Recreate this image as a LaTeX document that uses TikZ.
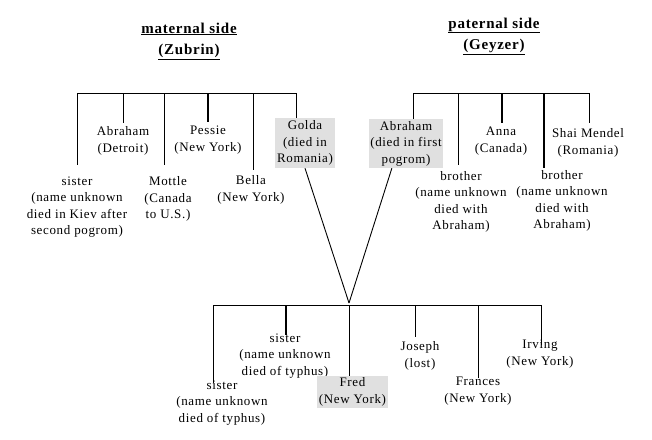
\documentclass[tikz,border=0pt]{standalone}
\usepackage{fontspec}
\setmainfont{Liberation Serif}[LetterSpace=5]
\usetikzlibrary{calc}
\definecolor{boxgray}{RGB}{224,224,224}
\begin{document}
\begin{tikzpicture}[x=1pt,y=-1pt,
  lbl/.style={align=center,font=\fontsize{13}{16.5}\selectfont,inner sep=0pt},
  gbox/.style={lbl,fill=boxgray,inner sep=1pt},
  ttl/.style={align=center,font=\bfseries\fontsize{15}{21}\selectfont,inner sep=0pt},
  ln/.style={line width=0.9pt},
  thk/.style={line width=1.8pt}]
\useasboundingbox[fill=white] (0,0) rectangle (652,439);

% titles
\node[ttl] (mt) at (189,41) {\underline{maternal side}\\\underline{(Zubrin)}};
\node[ttl] (pt) at (494,36) {\underline{paternal side}\\\underline{(Geyzer)}};

% ---------- maternal side ----------
\coordinate (mb1) at (77,93);  \coordinate (me1) at (77,165);
\coordinate (mb2) at (123,93); \coordinate (me2) at (123,123);
\coordinate (mb3) at (164,93); \coordinate (me3) at (164,165);
\coordinate (mb4) at (208,93); \coordinate (me4) at (208,122);
\coordinate (mb5) at (253,93); \coordinate (me5) at (253,170);
\coordinate (mb6) at (296,93);

\node[lbl] (msis) at (77,207) {sister\\(name unknown\\died in Kiev after\\second pogrom)};
\node[lbl] (mabr) at (123,141) {Abraham\\(Detroit)};
\node[lbl] (mmot) at (168,199) {Mottle\\(Canada\\to U.S.)};
\node[lbl] (mpes) at (208,140) {Pessie\\(New York)};
\node[lbl] (mbel) at (251,190) {Bella\\(New York)};
\node[gbox,minimum width=60,minimum height=50] (mgol) at (305,143) {Golda\\(died in\\Romania)};

\draw[ln] (mb1) -- (mb6);
\draw[ln] (mb1) -- (me1);
\draw[ln] (mb2) -- (me2);
\draw[ln] (mb3) -- (me3);
\draw[thk] (mb4) -- (me4);
\draw[ln] (mb5) -- (me5);
\draw[ln] (mb6) -- (mb6 |- mgol.north);

% ---------- paternal side ----------
\coordinate (pb1) at (413,93);
\coordinate (pb2) at (458,93); \coordinate (pe2) at (458,165);
\coordinate (pb3) at (502,93); \coordinate (pe3) at (502,123);
\coordinate (pb4) at (544,93); \coordinate (pe4) at (544,168);
\coordinate (pb5) at (589,93); \coordinate (pe5) at (589,123);

\node[gbox,minimum width=74,minimum height=49] (pabr) at (406,143.5) {Abraham\\(died in first\\pogrom)};
\node[lbl] (pbr1) at (461,202) {brother\\(name unknown\\died with\\Abraham)};
\node[lbl] (pann) at (501,141) {Anna\\(Canada)};
\node[lbl] (pbr2) at (562,201) {brother\\(name unknown\\died with\\Abraham)};
\node[lbl] (pshai) at (588,143) {Shai Mendel\\(Romania)};

\draw[ln] (pb1) -- (pb5);
\draw[ln] (pb1) -- (pb1 |- pabr.north);
\draw[ln] (pb2) -- (pe2);
\draw[thk] (pb3) -- (pe3);
\draw[thk] (pb4) -- (pe4);
\draw[ln] (pb5) -- (pe5);

% ---------- junction ----------
\coordinate (jn) at (349,303);
\draw[ln] ($(mgol.south west)!0.5!(mgol.south east)$) -- (jn);
\draw[ln] ($(pabr.south west)!0.31!(pabr.south east)$) -- (jn);

% ---------- children ----------
\coordinate (cb1) at (213,305); \coordinate (ce1) at (213,383);
\coordinate (cb2) at (286,305); \coordinate (ce2) at (286,335);
\coordinate (cb3) at (349,305);
\coordinate (cb4) at (415,305); \coordinate (ce4) at (415,337);
\coordinate (cb5) at (478,305); \coordinate (ce5) at (478,378);
\coordinate (cb6) at (541,305); \coordinate (ce6) at (541,345);

\node[lbl] (csis1) at (222,403) {sister\\(name unknown\\died of typhus)};
\node[lbl] (csis2) at (285,356) {sister\\(name unknown\\died of typhus)};
\node[gbox,minimum width=71,minimum height=32] (cfred) at (352.5,392) {Fred\\(New York)};
\node[lbl] (cjos) at (420,356) {Joseph\\(lost)};
\node[lbl] (cfra) at (478,391) {Frances\\(New York)};
\node[lbl] (cirv) at (540,354) {Irving\\(New York)};

\draw[ln] (cb1) -- (cb6);
\draw[ln] (cb1) -- (ce1);
\draw[thk] (cb2) -- (ce2);
\draw[ln] (cb3) -- (cb3 |- cfred.north);
\draw[ln] (cb4) -- (ce4);
\draw[ln] (cb5) -- (ce5);
\draw[ln] (cb6) -- (ce6);
\end{tikzpicture}
\end{document}
